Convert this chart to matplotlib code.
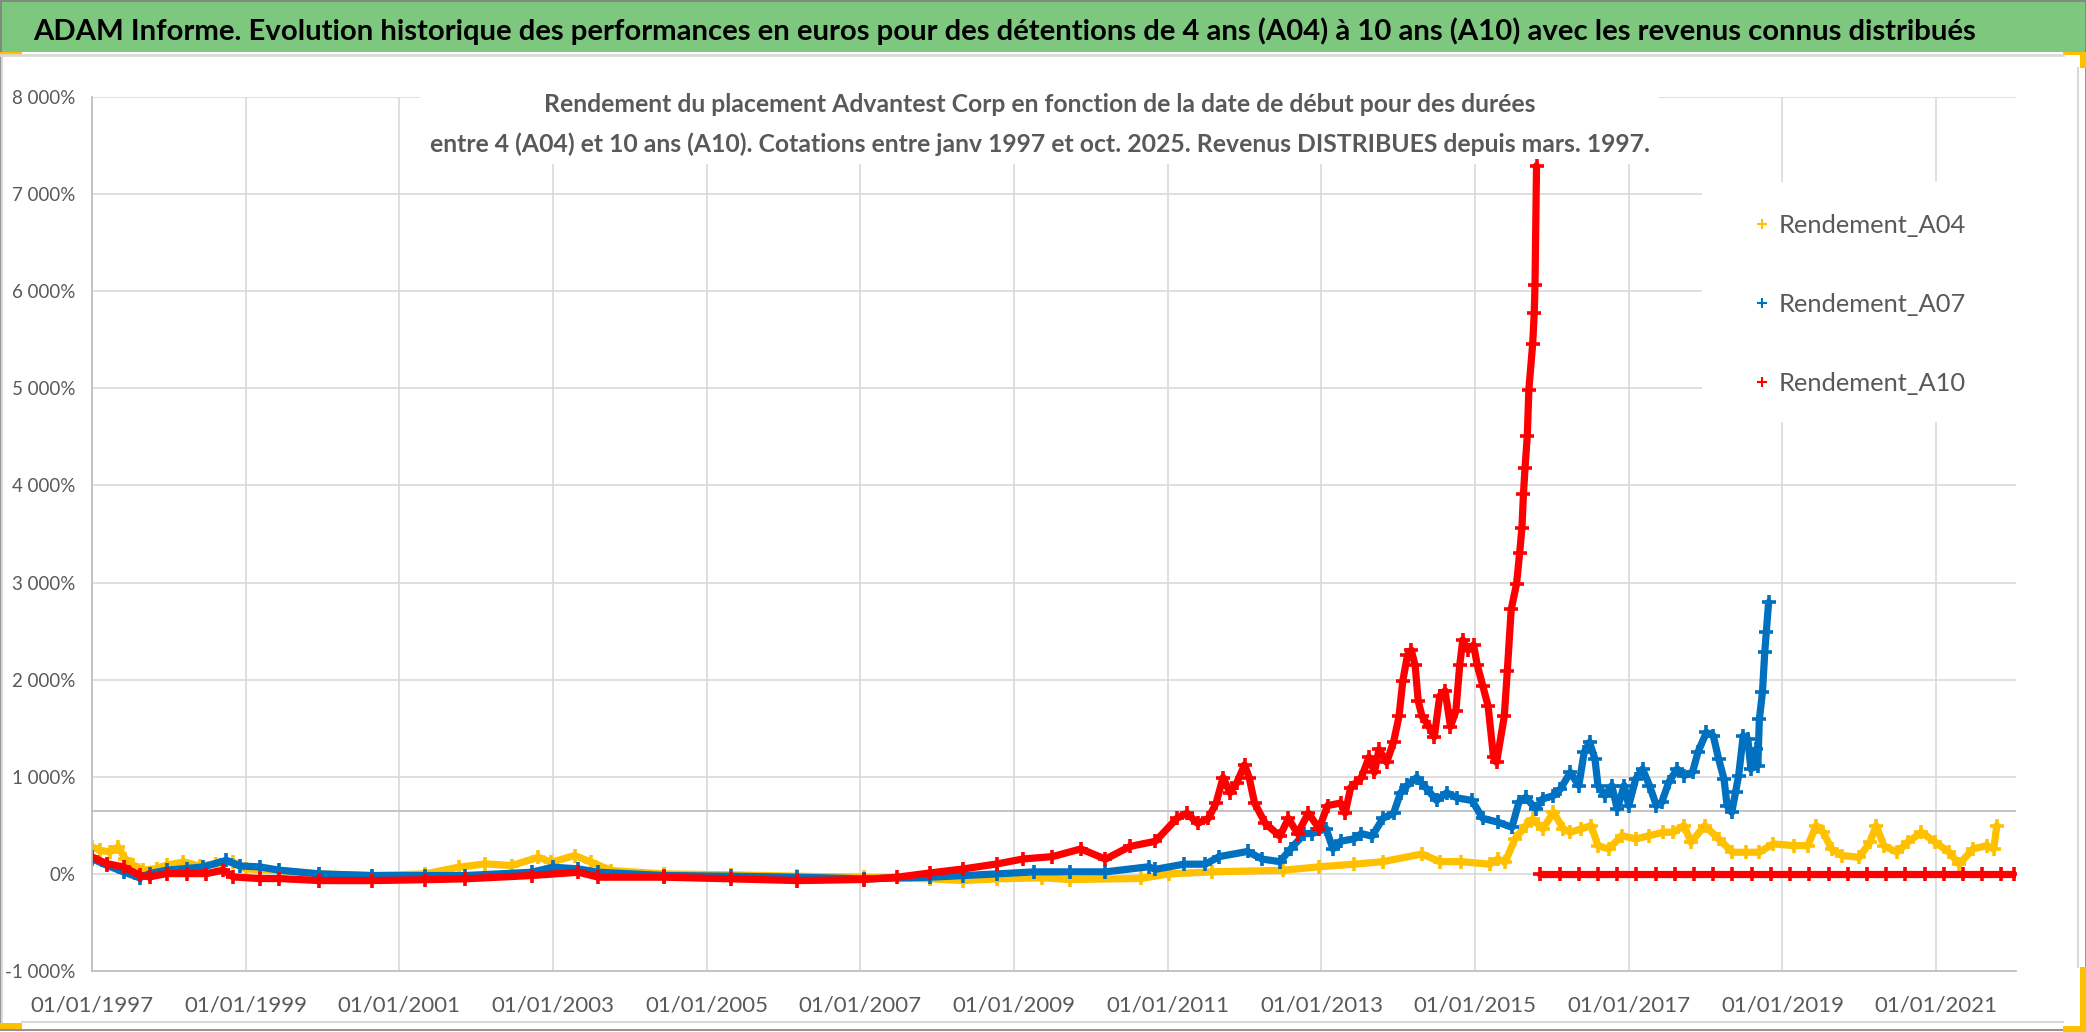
import matplotlib
matplotlib.use("Agg")
import matplotlib.pyplot as plt
from matplotlib.lines import Line2D
from matplotlib.patches import Rectangle

plt.rcParams["font.family"] = ["Lato", "DejaVu Sans"]

# --- data (x = start date in decimal years, y = %)
A04_X = [1997.00, 1997.10, 1997.23, 1997.34, 1997.43, 1997.54, 1997.67, 1997.84, 1997.97, 1998.19,
         1998.40, 1998.62, 1998.84, 1999.00, 1999.44, 1999.96, 2000.65, 2001.34, 2001.77, 2002.12,
         2002.46, 2002.81, 2002.98, 2003.28, 2003.50, 2003.76, 2004.45, 2005.32, 2006.18, 2007.05,
         2007.91, 2008.34, 2008.78, 2009.37, 2009.73, 2010.65, 2011.02, 2011.58, 2012.50, 2012.97,
         2013.43, 2013.80, 2014.31, 2014.54, 2014.82, 2015.19, 2015.30, 2015.39, 2015.52, 2015.66,
         2015.75, 2015.88, 2016.02, 2016.15, 2016.24, 2016.38, 2016.51, 2016.60, 2016.74, 2016.91,
         2017.09, 2017.27, 2017.45, 2017.58, 2017.72, 2017.81, 2017.99, 2018.17, 2018.35, 2018.52,
         2018.70, 2018.88, 2019.15, 2019.33, 2019.44, 2019.53, 2019.64, 2019.78, 2020.00, 2020.14,
         2020.22, 2020.32, 2020.49, 2020.63, 2020.81, 2020.99, 2021.17, 2021.30, 2021.48, 2021.66,
         2021.75, 2021.79]
A04_Y = [278, 243, 226, 278, 158, 89, 38, 55, 89, 123,
         82, 106, 123, 51, 34, 0, -17, 0, 69, 103,
         86, 171, 120, 189, 120, 34, 0, -10, -24, -34,
         -51, -69, -51, -40, -58, -47, 0, 21, 37, 73,
         100, 126, 205, 126, 126, 100, 154, 120, 360, 497,
         566, 463, 634, 463, 429, 463, 497, 291, 257, 394,
         360, 394, 429, 429, 497, 326, 497, 360, 223, 223,
         223, 309, 291, 291, 497, 429, 257, 189, 171, 326,
         497, 291, 223, 326, 429, 326, 223, 100, 257, 291,
         257, 497]

A07_X = [1997.00, 1997.19, 1997.41, 1997.62, 1997.75, 1997.97, 1998.23, 1998.45, 1998.75, 1998.92,
         1999.18, 1999.44, 1999.96, 2000.65, 2001.34, 2001.86, 2002.72, 2003.00, 2003.33, 2003.59,
         2004.45, 2005.32, 2006.18, 2007.05, 2007.91, 2008.34, 2008.78, 2009.26, 2009.73, 2010.19,
         2010.75, 2010.84, 2011.21, 2011.49, 2011.67, 2012.04, 2012.23, 2012.46, 2012.60, 2012.78,
         2012.88, 2013.06, 2013.15, 2013.25, 2013.43, 2013.52, 2013.66, 2013.80, 2013.94, 2014.03,
         2014.12, 2014.24, 2014.36, 2014.50, 2014.63, 2014.77, 2014.96, 2015.10, 2015.30, 2015.48,
         2015.57, 2015.66, 2015.79, 2015.88, 2016.02, 2016.11, 2016.24, 2016.35, 2016.42, 2016.49,
         2016.56, 2016.60, 2016.69, 2016.78, 2016.85, 2016.94, 2017.00, 2017.09, 2017.18, 2017.27,
         2017.36, 2017.43, 2017.52, 2017.63, 2017.72, 2017.83, 2017.90, 2018.01, 2018.10, 2018.17,
         2018.24, 2018.28, 2018.34, 2018.39, 2018.43, 2018.49, 2018.55, 2018.59, 2018.66, 2018.68,
         2018.70, 2018.74, 2018.77, 2018.79, 2018.82]
A07_Y = [158, 89, 21, -41, 3, 38, 55, 72, 140, 82,
         72, 38, 0, -17, -17, -17, 17, 69, 51, 17,
         -17, -24, -34, -51, -34, -17, 0, 21, 21, 21,
         73, 47, 100, 100, 178, 231, 152, 126, 257, 415,
         415, 467, 257, 336, 362, 415, 388, 572, 625, 835,
         913, 992, 887, 756, 835, 782, 756, 572, 532, 480,
         737, 789, 669, 772, 806, 874, 1046, 909, 1252, 1355,
         1183, 909, 806, 909, 669, 909, 703, 977, 1080, 909,
         703, 737, 943, 1080, 1012, 1046, 1252, 1457, 1423, 1183,
         977, 703, 634, 840, 1012, 1423, 1389, 1080, 1286, 1115,
         1595, 1869, 2280, 2486, 2795]

A10_X = [1997.00, 1997.19, 1997.41, 1997.62, 1997.75, 1997.97, 1998.23, 1998.49, 1998.71, 1998.84,
         1999.18, 1999.44, 1999.96, 2000.65, 2001.34, 2001.86, 2002.72, 2003.33, 2003.59, 2004.45,
         2005.32, 2006.18, 2007.05, 2007.48, 2007.91, 2008.34, 2008.78, 2009.12, 2009.50, 2009.87,
         2010.19, 2010.51, 2010.84, 2011.12, 2011.25, 2011.39, 2011.53, 2011.63, 2011.72, 2011.81,
         2011.90, 2012.00, 2012.06, 2012.13, 2012.27, 2012.46, 2012.57, 2012.69, 2012.83, 2012.97,
         2013.08, 2013.25, 2013.31, 2013.38, 2013.52, 2013.62, 2013.69, 2013.75, 2013.85, 2013.94,
         2014.01, 2014.06, 2014.12, 2014.17, 2014.22, 2014.26, 2014.31, 2014.40, 2014.47, 2014.54,
         2014.61, 2014.68, 2014.75, 2014.80, 2014.84, 2014.91, 2014.98, 2015.03, 2015.10, 2015.17,
         2015.24, 2015.28, 2015.38, 2015.42, 2015.47, 2015.54, 2015.58, 2015.61, 2015.63, 2015.65,
         2015.68, 2015.70, 2015.75, 2015.77, 2015.78, 2015.80]
A10_Y = [175, 106, 72, -14, -31, 3, 3, 3, 38, -31,
         -48, -48, -69, -69, -60, -51, -17, 17, -34, -34,
         -51, -69, -58, -34, 10, 51, 103, 154, 178, 257,
         152, 283, 336, 572, 625, 520, 572, 730, 992, 835,
         940, 1123, 992, 730, 520, 388, 572, 415, 625, 467,
         703, 730, 625, 887, 992, 1202, 1045, 1281, 1150, 1360,
         1622, 1990, 2252, 2304, 2147, 1780, 1622, 1517, 1412, 1832,
         1885, 1517, 1675, 2147, 2409, 2304, 2357, 2147, 1937, 1727,
         1202, 1150, 1622, 2094, 2724, 2987, 3302, 3564, 3916, 4178,
         4514, 4987, 5459, 5774, 6060, 7292]
# after the last 10-year window the A10 column is 0
A10_TAIL_X = [2015.85, 2016.10, 2016.35, 2016.60, 2016.85, 2017.10, 2017.35, 2017.60, 2017.85,
              2018.10, 2018.35, 2018.60, 2018.85, 2019.10, 2019.35, 2019.60, 2019.85, 2020.10,
              2020.35, 2020.60, 2020.85, 2021.10, 2021.35, 2021.60, 2021.85, 2022.02]
A10_TAIL_Y = [0, 0, 0, 0, 0, 0, 0, 0, 0,
              0, 0, 0, 0, 0, 0, 0, 0, 0,
              0, 0, 0, 0, 0, 0, 0, 0]

REF_LINE = 650
X_TICKS = [1997, 1999, 2001, 2003, 2005, 2007, 2009, 2011, 2013, 2015, 2017, 2019, 2021]
Y_TICKS = [-1000, 0, 1000, 2000, 3000, 4000, 5000, 6000, 7000, 8000]
LABELS = ["Rendement_A04", "Rendement_A07", "Rendement_A10"]

TITLE = ("ADAM Informe. Evolution historique des performances en euros pour des détentions "
         "de 4 ans (A04) à 10 ans (A10) avec les revenus connus distribués")
SUB1 = "Rendement du placement Advantest Corp en fonction de la date de début pour des durées"
SUB2 = ("entre 4 (A04) et 10 ans (A10). Cotations entre janv 1997 et oct. 2025. "
        "Revenus DISTRIBUES depuis mars. 1997.")

YELLOW = "#FFC000"
BLUE = "#0070C0"
RED = "#FF0000"
GREY_TXT = "#595959"

W, H = 2086, 1032


def fx(px):
    return px / W


def fy(py):
    return 1 - py / H


def fit_width(fig, text, target_px):
    # shrink/grow a text so that it spans about target_px pixels
    renderer = fig.canvas.get_renderer()
    width = text.get_window_extent(renderer).width
    text.set_fontsize(text.get_fontsize() * target_px / width)
    return text.get_fontsize()


def add_rect(fig, x0, y0, x1, y1, color):
    fig.patches.append(Rectangle((fx(x0), fy(y1)), (x1 - x0) / W, (y1 - y0) / H,
                                 transform=fig.transFigure, facecolor=color,
                                 edgecolor="none"))


def main():
    fig = plt.figure(figsize=(W / 100, H / 100), dpi=100)

    # title bar and frame
    add_rect(fig, 0, 0, W, 52, "#7DC87E")
    fig.lines.append(Line2D([0, fx(2063)], [fy(55), fy(55)], transform=fig.transFigure,
                            color="#D9D9D9", lw=2))
    fig.lines.append(Line2D([fx(22), fx(2063)], [fy(1022), fy(1022)], transform=fig.transFigure,
                            color="#D9D9D9", lw=1.5))
    fig.lines.append(Line2D([fx(2), fx(2)], [fy(56), fy(1022)], transform=fig.transFigure,
                            color="#D9D9D9", lw=1.5))
    fig.lines.append(Line2D([fx(2078), fx(2078)], [fy(68), fy(967)], transform=fig.transFigure,
                            color="#D9D9D9", lw=1.5))
    fig.patches.append(Rectangle((fx(0.5), fy(1030)), fx(2085), 1029.5 / H,
                                 transform=fig.transFigure, facecolor="none",
                                 edgecolor="#7F7F7F", lw=1.2))
    # yellow selection handles (corners)
    add_rect(fig, 0, 52, 22, 55, YELLOW)
    add_rect(fig, 2063, 52, 2086, 55, YELLOW)
    add_rect(fig, 2080, 52, 2086, 68, YELLOW)
    add_rect(fig, 2080, 967, 2086, 1032, YELLOW)
    add_rect(fig, 2063, 1026, 2086, 1032, YELLOW)
    add_rect(fig, 0, 1023, 22, 1029, YELLOW)

    title = fig.text(fx(33), fy(40), TITLE, fontsize=24, fontweight="bold", color="black",
                     ha="left", va="baseline")
    fit_width(fig, title, 1947)

    ax = fig.add_axes([fx(92), fy(971), (2016 - 92) / W, (971 - 97) / H])
    ax.set_xlim(1997.0, 2022.04)
    ax.set_ylim(-1000, 8000)
    ax.set_xticks(X_TICKS)
    ax.set_xticklabels([f"01/01/{y}" for y in X_TICKS])
    ax.set_yticks(Y_TICKS)
    ax.set_yticklabels([f"{v:,}".replace(",", " ") + "%" for v in Y_TICKS])
    ax.tick_params(length=0, labelcolor=GREY_TXT)
    ax.tick_params(axis="y", pad=12, labelsize=13.5)
    ax.tick_params(axis="x", pad=18, labelsize=16)
    ax.grid(True, color="#D9D9D9", lw=1.2)
    for side in ["top", "right"]:
        ax.spines[side].set_visible(False)
    for side in ["left", "bottom"]:
        ax.spines[side].set_color("#BFBFBF")
        ax.spines[side].set_linewidth(1.3)
    ax.axhline(REF_LINE, color="#BFBFBF", lw=1.3, zorder=1.6)

    # white boxes behind the inner title and the legend hide the grid
    for x0, y0, x1, y1 in [(420, 94, 1659, 164), (1702, 182, 2016, 422)]:
        ax.add_patch(Rectangle((fx(x0), fy(y1)), (x1 - x0) / W, (y1 - y0) / H,
                               transform=fig.transFigure, facecolor="white",
                               edgecolor="none", zorder=1.7, clip_on=False))

    style = dict(lw=5.2, marker="+", ms=10, mew=2.6, solid_joinstyle="round",
                 solid_capstyle="round", zorder=2)
    ax.plot(A04_X, A04_Y, color=YELLOW, **style)
    ax.plot(A07_X, A07_Y, color=BLUE, **style)
    ax.plot(A10_X, A10_Y, color=RED, **style)
    ax.plot(A10_TAIL_X, A10_TAIL_Y, color=RED, **style)

    sub2 = fig.text(fx(1040), fy(152), SUB2, fontsize=20, fontweight="bold", color=GREY_TXT,
                    ha="center", va="baseline")
    size = fit_width(fig, sub2, 1224)
    fig.text(fx(1040), fy(112), SUB1, fontsize=size, fontweight="bold", color=GREY_TXT,
             ha="center", va="baseline")

    # legend font sized so that one label is about 188 px wide
    probe = fig.text(0, 0, LABELS[0], fontsize=20)
    leg_size = fit_width(fig, probe, 188)
    probe.remove()
    handles = [Line2D([], [], color=c, marker="+", ls="none", ms=7, mew=1.5)
               for c in (YELLOW, BLUE, RED)]
    ax.legend(handles, LABELS, loc="upper left", bbox_to_anchor=(fx(1754), fy(214)),
              bbox_transform=fig.transFigure, frameon=False, fontsize=leg_size,
              labelcolor=GREY_TXT, labelspacing=2.2, handlelength=0.6,
              handletextpad=0.35, borderpad=0, borderaxespad=0)

    fig.savefig("out.png", dpi=100)


if __name__ == "__main__":
    main()
